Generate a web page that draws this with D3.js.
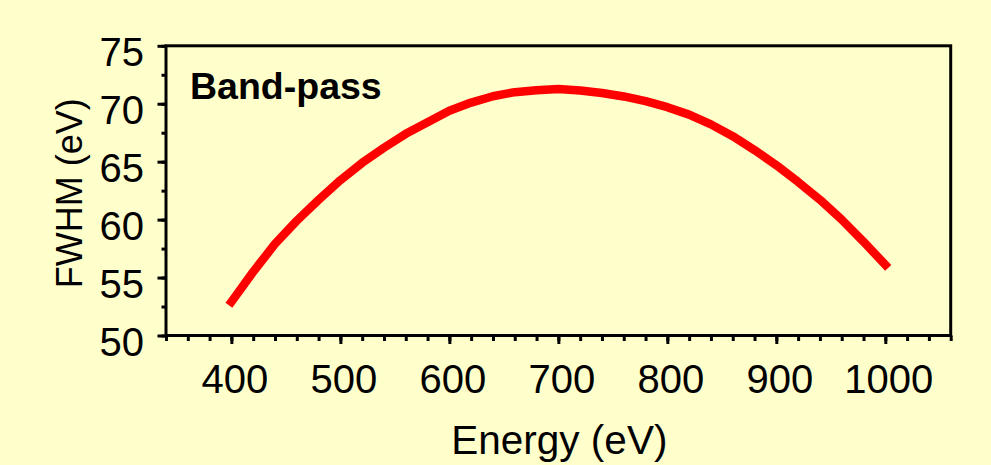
<!DOCTYPE html>
<html>
<head>
<meta charset="utf-8">
<script src="https://cdn.jsdelivr.net/npm/d3@7"></script>
<style>
  html, body { margin: 0; padding: 0; background: #FFFFCC; }
  svg { display: block; }
  text { font-family: "Liberation Sans", Arial, sans-serif; fill: #000; }
</style>
</head>
<body>
<svg id="chart" width="991" height="465"></svg>
<script>
// Photon energy (eV) and measured band-pass FWHM (eV)
const energy = [400, 420, 440, 460, 480, 500, 520, 540, 560, 580, 600, 620, 640, 660, 680,
                700, 720, 740, 760, 780, 800, 820, 840, 860, 880, 900, 920, 940, 960, 980, 1000];
const fwhm = [52.9, 55.5, 57.9, 59.9, 61.7, 63.4, 64.9, 66.2, 67.4, 68.4, 69.4, 70.1, 70.65, 71.0, 71.17,
              71.27, 71.15, 70.93, 70.63, 70.22, 69.7, 69.06, 68.22, 67.2, 66.0, 64.7, 63.25, 61.72, 60.0, 58.1, 56.1];

const xDomain = [340, 1060];
const yDomain = [50, 75];
const xMajorTicks = [400, 500, 600, 700, 800, 900, 1000];
const yMajorTicks = [50, 55, 60, 65, 70, 75];
const xMinorTicks = d3.range(340, 1061, 20);
const yMinorTicks = d3.range(50, 75.01, 2.5);

const xTitle = "Energy (eV)";
const yTitle = "FWHM (eV)";
const panelLabel = "Band-pass";

const svg = d3.select("#chart");
const plot = { left: 166, right: 950.7, top: 45.8, bottom: 335.5 };

const x = d3.scaleLinear().domain(xDomain).range([plot.left, plot.right]);
const y = d3.scaleLinear().domain(yDomain).range([plot.bottom, plot.top]);

// Minor ticks (unlabelled)
svg.append("g")
  .attr("transform", `translate(0,${plot.bottom})`)
  .call(d3.axisBottom(x).tickValues(xMinorTicks).tickSize(5.5).tickFormat(""))
  .call(g => g.select(".domain").remove())
  .call(g => g.selectAll("line").attr("stroke", "#000").attr("stroke-width", 3));

svg.append("g")
  .attr("transform", `translate(${plot.left},0)`)
  .call(d3.axisLeft(y).tickValues(yMinorTicks).tickSize(4.5).tickFormat(""))
  .call(g => g.select(".domain").remove())
  .call(g => g.selectAll("line").attr("stroke", "#000").attr("stroke-width", 3));

// Major ticks with labels
svg.append("g")
  .attr("transform", `translate(0,${plot.bottom})`)
  .call(d3.axisBottom(x).tickValues(xMajorTicks).tickSize(8.5).tickPadding(0).tickFormat(d3.format("d")))
  .call(g => g.select(".domain").remove())
  .call(g => g.selectAll("line").attr("stroke", "#000").attr("stroke-width", 3))
  .call(g => g.selectAll("text")
    .attr("font-size", 40)
    .attr("dx", 3)
    .attr("dy", null)
    .attr("y", 57.5));

svg.append("g")
  .attr("transform", `translate(${plot.left},0)`)
  .call(d3.axisLeft(y).tickValues(yMajorTicks).tickSize(8.5).tickFormat(d3.format("d")))
  .call(g => g.select(".domain").remove())
  .call(g => g.selectAll("line").attr("stroke", "#000").attr("stroke-width", 3))
  .call(g => g.selectAll("text")
    .attr("font-size", 40)
    .attr("x", -22)
    .attr("dy", null)
    .attr("y", 20));

// Plot frame
svg.append("rect")
  .attr("x", plot.left)
  .attr("y", plot.top)
  .attr("width", plot.right - plot.left)
  .attr("height", plot.bottom - plot.top)
  .attr("fill", "none")
  .attr("stroke", "#000")
  .attr("stroke-width", 3);

// FWHM curve
const line = d3.line()
  .x((d, i) => x(energy[i]))
  .y(d => y(d));

svg.append("path")
  .datum(fwhm)
  .attr("d", line)
  .attr("fill", "none")
  .attr("stroke", "#FF0000")
  .attr("stroke-width", 8.5)
  .attr("stroke-linecap", "square")
  .attr("stroke-linejoin", "round");

// Panel label
svg.append("text")
  .attr("x", 190)
  .attr("y", 98.5)
  .attr("font-size", 37.5)
  .attr("font-weight", "bold")
  .text(panelLabel);

// Axis titles
svg.append("text")
  .attr("x", (plot.left + plot.right) / 2 + 1)
  .attr("y", 454)
  .attr("text-anchor", "middle")
  .attr("font-size", 40.5)
  .text(xTitle);

svg.append("text")
  .attr("transform", `translate(82,${(plot.top + plot.bottom) / 2 + 2.5}) rotate(-90)`)
  .attr("text-anchor", "middle")
  .attr("font-size", 36)
  .text(yTitle);
</script>
</body>
</html>
